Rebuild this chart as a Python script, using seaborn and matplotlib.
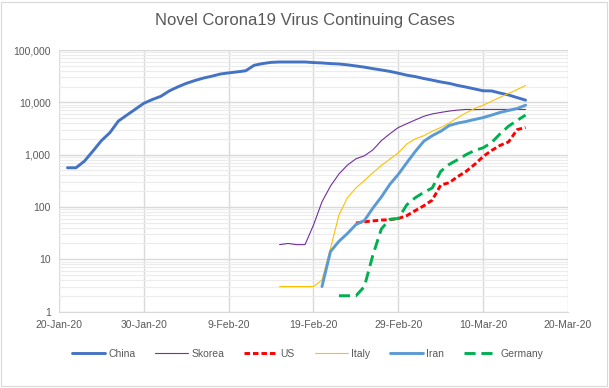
import numpy as np
import pandas as pd
import matplotlib
matplotlib.use("Agg")
import matplotlib.pyplot as plt
import matplotlib.ticker as mticker
import matplotlib.dates as mdates
from matplotlib.patches import Rectangle
import seaborn as sns

# values (continuing cases per day)
china_start = "2020-01-21"
china = [560, 560, 750, 1170, 1850, 2630, 4380, 5700, 7370, 9570,
         11300, 13000, 16500, 19700, 23000, 26000, 29000, 31500, 34700, 36500,
         38200, 40000, 51000, 55000, 58000, 59000, 59000, 59000, 59000, 57500,
         56500, 55000, 54000, 52000, 49500, 47000, 44000, 41500, 39000, 36000,
         33000, 31000, 28500, 26500, 24500, 23000, 21000, 19500, 18000, 16600,
         16500, 15000, 13800, 12300, 11000]

skorea_start = "2020-02-15"
skorea = [19, 20, 19, 19, 45, 125, 250, 426, 630, 830,
          950, 1230, 1850, 2500, 3300, 3900, 4600, 5400, 6000, 6400,
          6800, 7100, 7300, 7250, 7300, 7300, 7300, 7300, 7300, 7300]

us_start = "2020-02-24"
us = [49, 52, 54, 56, 57, 60, 68, 85, 105, 135,
      262, 290, 380, 480, 650, 920, 1200, 1500, 1750, 3000, 3300]

italy_start = "2020-02-15"
italy = [3, 3, 3, 3, 3, 4, 16, 70, 150, 230,
         320, 450, 620, 820, 1080, 1600, 2000, 2300, 2800, 3300,
         4000, 5100, 6300, 7600, 8800, 10500, 12500, 14800, 17500, 21000]

iran_start = "2020-02-20"
iran = [3, 14, 22, 31, 46, 55, 95, 155, 270, 420,
        700, 1150, 1800, 2300, 2800, 3600, 4000, 4300, 4700, 5100,
        5700, 6400, 7000, 7600, 8800]

germany_start = "2020-02-22"
germany = [2, 2, 2, 3, 12, 38, 58, 60, 110, 150,
           190, 230, 480, 650, 800, 1000, 1200, 1350, 1700, 2500,
           3500, 4500, 5700]

series = [
    ("China", china_start, china, "#4472C4", 2.1, "-"),
    ("Skorea", skorea_start, skorea, "#7030A0", 0.8, "-"),
    ("US", us_start, us, "#FF0000", 2.1, (0, (1.9, 1.0))),
    ("Italy", italy_start, italy, "#FFC000", 0.8, "-"),
    ("Iran", iran_start, iran, "#5B9BD5", 2.1, "-"),
    ("Germany", germany_start, germany, "#00B050", 2.1, (0, (3.8, 2.0))),
]

sns.set_style("white")
plt.rcParams["font.family"] = ["Liberation Sans", "DejaVu Sans"]

fig = plt.figure(figsize=(6.09, 3.88), dpi=100)
ax = fig.add_axes([59 / 609, 1 - 311.5 / 388, (568 - 59) / 609, (311.5 - 50) / 388])

for name, start, vals, color, lw, ls in series:
    df = pd.DataFrame({"date": pd.date_range(start, periods=len(vals), freq="D"),
                       "cases": vals})
    sns.lineplot(data=df, x="date", y="cases", ax=ax, color=color,
                 linewidth=lw, linestyle=ls, label=name)

ax.set_yscale("log")
ax.set_ylim(1, 100000)
ax.set_xlim(pd.Timestamp("2020-01-20"), pd.Timestamp("2020-03-20"))

xticks = pd.date_range("2020-01-20", "2020-03-20", freq="10D")
ax.set_xticks(xticks)
ax.xaxis.set_major_formatter(mticker.FuncFormatter(
    lambda v, p: (lambda d: f"{d.day}-{d.strftime('%b-%y')}")(mdates.num2date(v))))
ax.yaxis.set_major_locator(mticker.LogLocator(base=10, numticks=10))
ax.yaxis.set_minor_locator(mticker.LogLocator(base=10, subs=np.arange(2, 10), numticks=10))
ax.yaxis.set_major_formatter(mticker.FuncFormatter(lambda v, p: f"{v:,.0f}"))
ax.yaxis.set_minor_formatter(mticker.NullFormatter())

ax.grid(True, which="major", axis="both", color="#d9d9d9", linewidth=1.0)
ax.grid(True, which="minor", axis="y", color="#ececec", linewidth=0.8)
ax.set_axisbelow(True)
ax.tick_params(axis="both", which="both", length=0, labelsize=7.5, colors="#595959", pad=6)
for side in ["top", "right", "left"]:
    ax.spines[side].set_visible(False)
ax.spines["bottom"].set_color("#d9d9d9")
ax.set_xlabel("")
ax.set_ylabel("")

ax.get_legend().remove()
handles, labels = ax.get_legend_handles_labels()
fig.legend(handles, labels, loc="center", bbox_to_anchor=(0.505, 1 - 354 / 388), ncol=6,
           frameon=False, fontsize=7.5, handlelength=3.2, handletextpad=0.3,
           columnspacing=1.9, labelcolor="#595959")

fig.suptitle("Novel Corona19 Virus Continuing Cases", y=1 - 20 / 388, va="center",
             fontsize=12, color="#595959")
fig.patches.append(Rectangle((0.002, 0.004), 0.995, 0.992, transform=fig.transFigure,
                             fill=False, edgecolor="#d9d9d9", linewidth=0.8))

fig.savefig("out.png", dpi=100)
